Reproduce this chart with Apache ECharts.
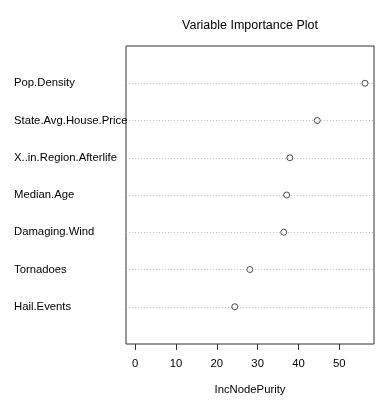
<!DOCTYPE html>
<html>
<head>
<meta charset="utf-8">
<script src="https://cdn.jsdelivr.net/npm/echarts@6/dist/echarts.min.js"></script>
<style>html,body{margin:0;padding:0;background:#fff}#c{width:380px;height:400px}</style>
</head>
<body>
<div id="c"></div>
<script>
// categories listed bottom to top (as in R dotchart)
var categories = ['Hail.Events', 'Tornadoes', 'Damaging.Wind', 'Median.Age', 'X..in.Region.Afterlife', 'State.Avg.House.Price', 'Pop.Density'];
var values = [24.4, 28.1, 36.4, 37.1, 37.9, 44.6, 56.3];
var xTicks = [0, 10, 20, 30, 40, 50];

var FONT = 'Liberation Sans, Arial, sans-serif';
var points = values.map(function (v, i) { return [v, i + 1]; });

var chart = echarts.init(document.getElementById('c'), null, {renderer: 'canvas'});
chart.setOption({
  animation: false,
  backgroundColor: '#fff',
  title: {
    text: 'Variable Importance Plot',
    left: 245, top: 14, textAlign: 'center',
    textStyle: {fontFamily: FONT, fontSize: 12.5, fontWeight: 'normal', color: '#000'}
  },
  grid: {left: 126, right: 6, top: 46, bottom: 56, show: true, borderColor: '#333', borderWidth: 1, backgroundColor: 'transparent'},
  xAxis: {
    type: 'value', min: -2.25, max: 58.5,
    name: 'IncNodePurity', nameLocation: 'middle', nameGap: 40,
    nameTextStyle: {fontFamily: FONT, fontSize: 11.3, color: '#000'},
    axisLine: {show: false},
    axisTick: {show: true, length: 6, customValues: xTicks, lineStyle: {color: '#333'}},
    axisLabel: {customValues: xTicks, margin: 14, fontFamily: FONT, fontSize: 11.3, color: '#000'},
    splitLine: {show: false}
  },
  yAxis: {
    type: 'value', min: 0, max: 8, interval: 1,
    axisLine: {show: false}, axisTick: {show: false},
    axisLabel: {
      align: 'left', margin: 112, fontFamily: FONT, fontSize: 11.3, color: '#000',
      formatter: function (v) { return categories[v - 1] || ''; }
    },
    splitLine: {show: true, showMinLine: false, showMaxLine: false, lineStyle: {color: '#c0c0c0', type: [1, 2], width: 1}}
  },
  series: [{
    type: 'scatter', data: points, symbol: 'circle', symbolSize: 6,
    itemStyle: {color: '#fff', borderColor: '#222', borderWidth: 1}
  }]
});
</script>
</body>
</html>
